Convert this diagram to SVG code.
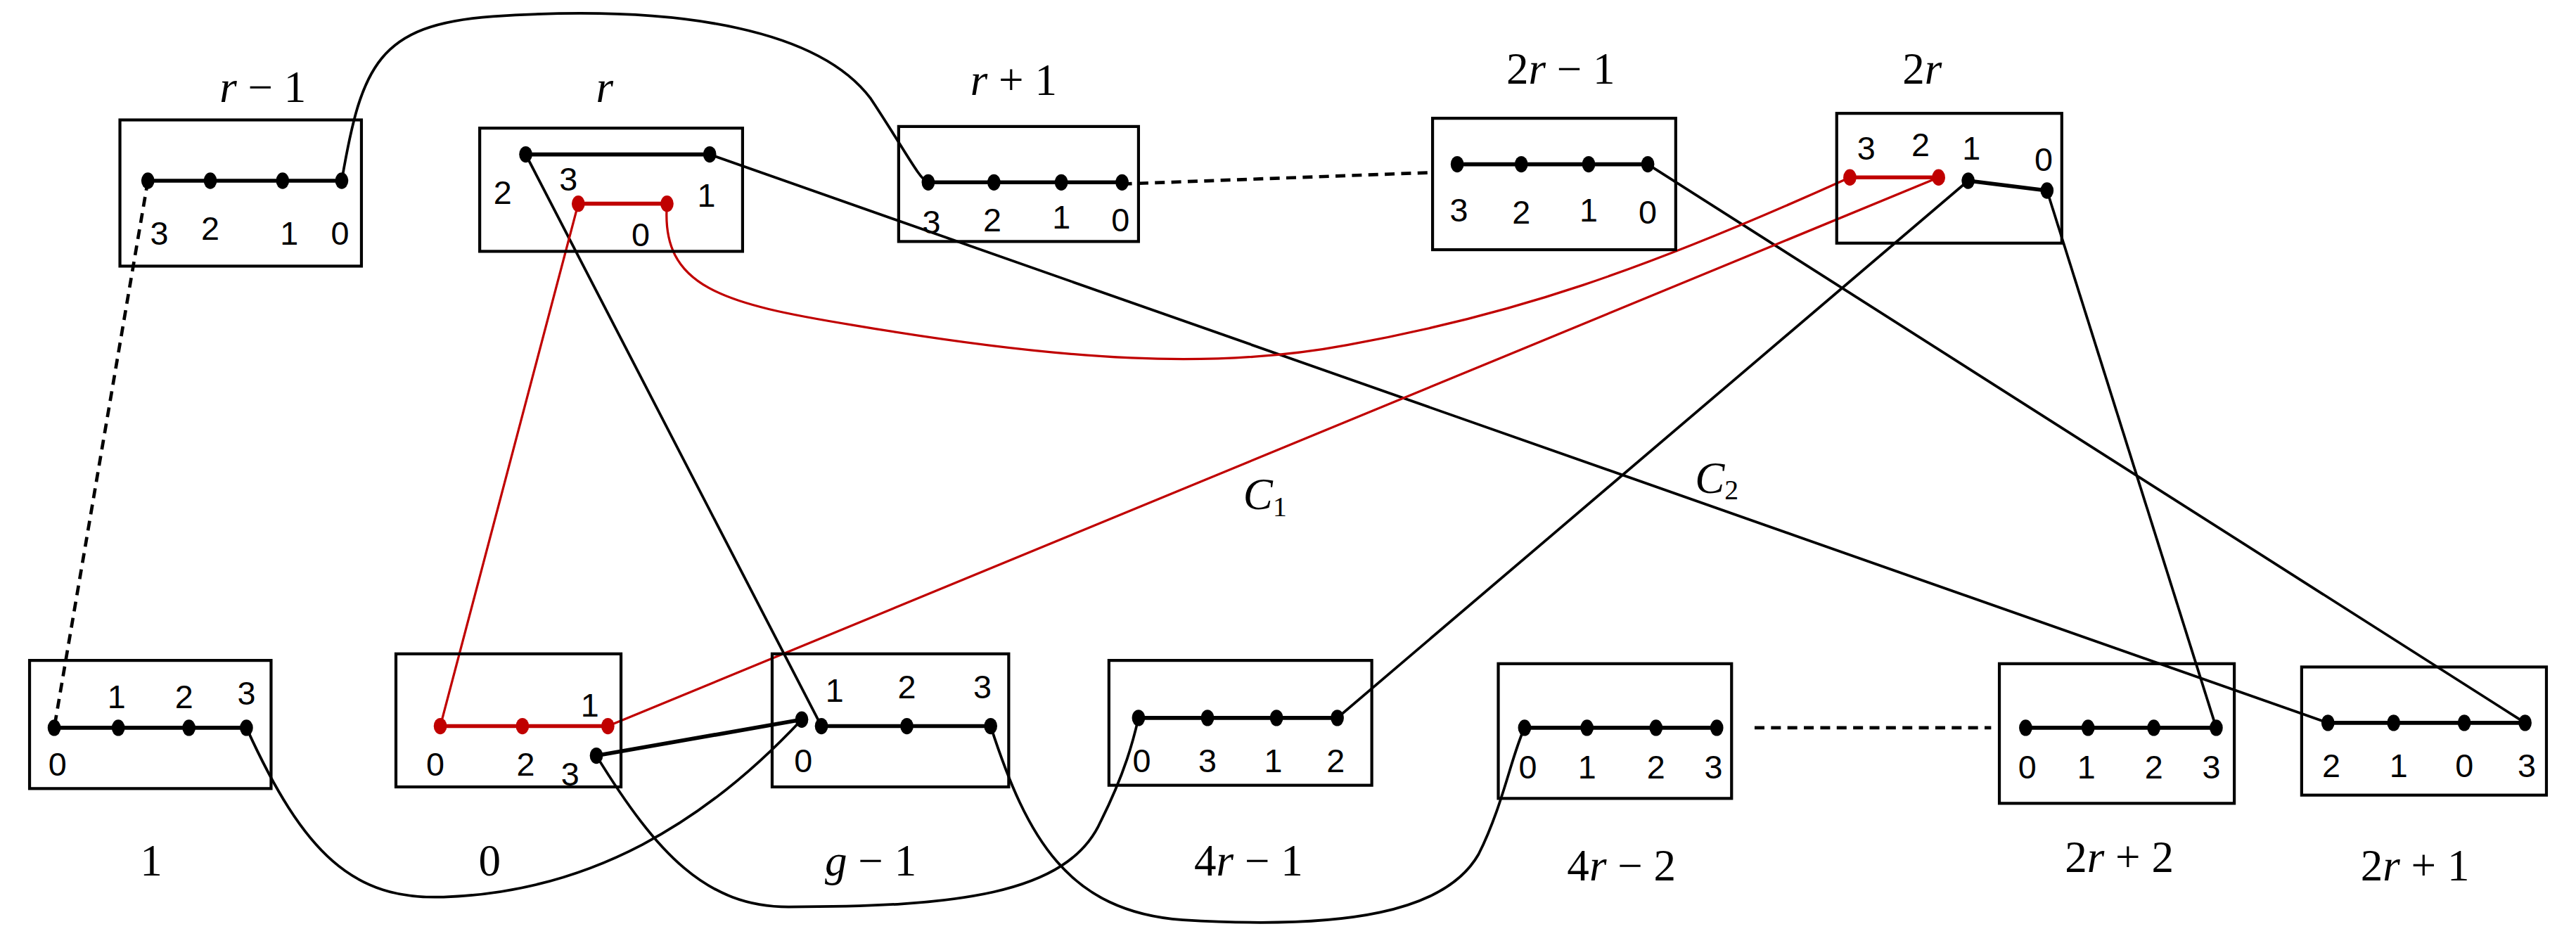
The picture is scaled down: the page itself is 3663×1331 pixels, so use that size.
<svg xmlns="http://www.w3.org/2000/svg" width="3663" height="1331" viewBox="0 0 3663 1331">
<style>
.box{fill:none;stroke:#000;stroke-width:1.8}
.e{stroke:#000;stroke-width:2.4;fill:none}
.r{stroke:#c00000;stroke-width:2.4;fill:none}
.c{stroke:#000;stroke-width:1.6;fill:none}
.cr{stroke:#c00000;stroke-width:1.4;fill:none}
.d{stroke:#000;stroke-width:2;fill:none;stroke-dasharray:6,4}
.dot{fill:#000}
.rd{fill:#c00000}
.n{font-family:"Liberation Sans",Arial,sans-serif;font-size:20px;text-anchor:middle}
.t{font-family:"Liberation Serif","Times New Roman",serif;font-size:27px;text-anchor:middle}
.i{font-style:italic}
</style>
<rect width="3663" height="1331" fill="#fff"/>
<g transform="scale(2.3361)">
<g id="connectors">
<path class="d" d="M90,110 L33,443"/>
<path class="c" d="M208,110 C220,40 230,15 300,10 C420,2 500,20 530,60 C550,90 560,110 565,111"/>
<path class="d" d="M683,112 L872,105"/>
<path class="c" d="M432,94 L1417,440"/>
<path class="c" d="M320,94 L500,442"/>
<path class="c" d="M1003,100 L1537,440"/>
<path class="c" d="M1198,110 L814,437"/>
<path class="c" d="M1246,116 L1349,443"/>
<path class="cr" d="M352,124 L268,442"/>
<path class="cr" d="M406,124 C402,175 440,185 520,198 C650,220 740,225 820,210 C920,192 1000,165 1126,108"/>
<path class="cr" d="M370,442 L1180,108"/>
<path class="e" d="M363,460 L488,438"/>
<path class="c" d="M150,443 C185,520 215,548 270,546 C360,543 430,500 488,438"/>
<path class="c" d="M363,460 C400,520 430,552 480,552 C580,552 650,545 670,500 C685,470 690,450 693,437"/>
<path class="c" d="M603,442 C625,510 650,555 720,560 C820,566 880,555 900,520 C915,490 920,460 928,443"/>
<path class="d" d="M1068,443 L1212,443"/>
<text class="t i" x="770" y="310">C<tspan font-size="17" font-style="normal" dy="4">1</tspan></text>
<text class="t i" x="1045" y="300">C<tspan font-size="17" font-style="normal" dy="4">2</tspan></text>
</g>
<g id="n-r-1">
<rect class="box" x="73" y="73" width="147" height="89"/>
<path class="e" d="M90,110 H208"/>
<ellipse class="dot" cx="90" cy="110" rx="4" ry="5"/><ellipse class="dot" cx="128" cy="110" rx="4" ry="5"/><ellipse class="dot" cx="172" cy="110" rx="4" ry="5"/><ellipse class="dot" cx="208" cy="110" rx="4" ry="5"/>
<text class="n" x="97" y="149">3</text><text class="n" x="128" y="146">2</text><text class="n" x="176" y="149">1</text><text class="n" x="207" y="149">0</text>
<text class="t" x="160" y="62"><tspan class="i">r</tspan> − 1</text>
</g>
<g id="n-r">
<rect class="box" x="292" y="78" width="160" height="75"/>
<path class="e" d="M320,94 H432"/>
<path class="r" d="M352,124 H406"/>
<ellipse class="dot" cx="320" cy="94" rx="4" ry="5"/><ellipse class="dot" cx="432" cy="94" rx="4" ry="5"/>
<ellipse class="rd" cx="352" cy="124" rx="4" ry="5"/><ellipse class="rd" cx="406" cy="124" rx="4" ry="5"/>
<text class="n" x="306" y="124">2</text><text class="n" x="346" y="116">3</text><text class="n" x="430" y="126">1</text><text class="n" x="390" y="150">0</text>
<text class="t i" x="368" y="62">r</text>
</g>
<g id="n-r+1">
<rect class="box" x="547" y="77" width="146" height="70"/>
<path class="e" d="M565,111 H683"/>
<ellipse class="dot" cx="565" cy="111" rx="4" ry="5"/><ellipse class="dot" cx="605" cy="111" rx="4" ry="5"/><ellipse class="dot" cx="646" cy="111" rx="4" ry="5"/><ellipse class="dot" cx="683" cy="111" rx="4" ry="5"/>
<text class="n" x="567" y="142">3</text><text class="n" x="604" y="141">2</text><text class="n" x="646" y="139">1</text><text class="n" x="682" y="141">0</text>
<text class="t" x="617" y="58"><tspan class="i">r</tspan> + 1</text>
</g>
<g id="n-2r-1">
<rect class="box" x="872" y="72" width="148" height="80"/>
<path class="e" d="M887,100 H1003"/>
<ellipse class="dot" cx="887" cy="100" rx="4" ry="5"/><ellipse class="dot" cx="926" cy="100" rx="4" ry="5"/><ellipse class="dot" cx="967" cy="100" rx="4" ry="5"/><ellipse class="dot" cx="1003" cy="100" rx="4" ry="5"/>
<text class="n" x="888" y="135">3</text><text class="n" x="926" y="136">2</text><text class="n" x="967" y="135">1</text><text class="n" x="1003" y="136">0</text>
<text class="t" x="950" y="51">2<tspan class="i">r</tspan> − 1</text>
</g>
<g id="n-2r">
<rect class="box" x="1118" y="69" width="137" height="79"/>
<path class="r" d="M1126,108 H1180"/>
<path class="e" d="M1198,110 L1246,116"/>
<ellipse class="rd" cx="1126" cy="108" rx="4" ry="5"/><ellipse class="rd" cx="1180" cy="108" rx="4" ry="5"/>
<ellipse class="dot" cx="1198" cy="110" rx="4" ry="5"/><ellipse class="dot" cx="1246" cy="116" rx="4" ry="5"/>
<text class="n" x="1136" y="97">3</text><text class="n" x="1169" y="95">2</text><text class="n" x="1200" y="97">1</text><text class="n" x="1244" y="104">0</text>
<text class="t" x="1170" y="51">2<tspan class="i">r</tspan></text>
</g>
<g id="n-1">
<rect class="box" x="18" y="402" width="147" height="78"/>
<path class="e" d="M33,443 H150"/>
<ellipse class="dot" cx="33" cy="443" rx="4" ry="5"/><ellipse class="dot" cx="72" cy="443" rx="4" ry="5"/><ellipse class="dot" cx="115" cy="443" rx="4" ry="5"/><ellipse class="dot" cx="150" cy="443" rx="4" ry="5"/>
<text class="n" x="35" y="472">0</text><text class="n" x="71" y="431">1</text><text class="n" x="112" y="431">2</text><text class="n" x="150" y="429">3</text>
<text class="t" x="92" y="533">1</text>
</g>
<g id="n-0">
<rect class="box" x="241" y="398" width="137" height="81"/>
<path class="r" d="M268,442 H370"/>
<ellipse class="rd" cx="268" cy="442" rx="4" ry="5"/><ellipse class="rd" cx="318" cy="442" rx="4" ry="5"/><ellipse class="rd" cx="370" cy="442" rx="4" ry="5"/>
<ellipse class="dot" cx="363" cy="460" rx="4" ry="5"/>
<text class="n" x="265" y="472">0</text><text class="n" x="320" y="472">2</text><text class="n" x="359" y="436">1</text><text class="n" x="347" y="478">3</text>
<text class="t" x="298" y="533">0</text>
</g>
<g id="n-g-1">
<rect class="box" x="470" y="398" width="144" height="81"/>
<path class="e" d="M500,442 H603"/>
<ellipse class="dot" cx="488" cy="438" rx="4" ry="5"/>
<ellipse class="dot" cx="500" cy="442" rx="4" ry="5"/><ellipse class="dot" cx="552" cy="442" rx="4" ry="5"/><ellipse class="dot" cx="603" cy="442" rx="4" ry="5"/>
<text class="n" x="508" y="427">1</text><text class="n" x="552" y="425">2</text><text class="n" x="598" y="425">3</text><text class="n" x="489" y="470">0</text>
<text class="t" x="530" y="533"><tspan class="i">g</tspan> − 1</text>
</g>
<g id="n-4r-1">
<rect class="box" x="675" y="402" width="160" height="76"/>
<path class="e" d="M693,437 H814"/>
<ellipse class="dot" cx="693" cy="437" rx="4" ry="5"/><ellipse class="dot" cx="735" cy="437" rx="4" ry="5"/><ellipse class="dot" cx="777" cy="437" rx="4" ry="5"/><ellipse class="dot" cx="814" cy="437" rx="4" ry="5"/>
<text class="n" x="695" y="470">0</text><text class="n" x="735" y="470">3</text><text class="n" x="775" y="470">1</text><text class="n" x="813" y="470">2</text>
<text class="t" x="760" y="533">4<tspan class="i">r</tspan> − 1</text>
</g>
<g id="n-4r-2">
<rect class="box" x="912" y="404" width="142" height="82"/>
<path class="e" d="M928,443 H1045"/>
<ellipse class="dot" cx="928" cy="443" rx="4" ry="5"/><ellipse class="dot" cx="966" cy="443" rx="4" ry="5"/><ellipse class="dot" cx="1008" cy="443" rx="4" ry="5"/><ellipse class="dot" cx="1045" cy="443" rx="4" ry="5"/>
<text class="n" x="930" y="474">0</text><text class="n" x="966" y="474">1</text><text class="n" x="1008" y="474">2</text><text class="n" x="1043" y="474">3</text>
<text class="t" x="987" y="536">4<tspan class="i">r</tspan> − 2</text>
</g>
<g id="n-2r+2">
<rect class="box" x="1217" y="404" width="143" height="85"/>
<path class="e" d="M1233,443 H1349"/>
<ellipse class="dot" cx="1233" cy="443" rx="4" ry="5"/><ellipse class="dot" cx="1271" cy="443" rx="4" ry="5"/><ellipse class="dot" cx="1311" cy="443" rx="4" ry="5"/><ellipse class="dot" cx="1349" cy="443" rx="4" ry="5"/>
<text class="n" x="1234" y="474">0</text><text class="n" x="1270" y="474">1</text><text class="n" x="1311" y="474">2</text><text class="n" x="1346" y="474">3</text>
<text class="t" x="1290" y="531">2<tspan class="i">r</tspan> + 2</text>
</g>
<g id="n-2r+1">
<rect class="box" x="1401" y="406" width="149" height="78"/>
<path class="e" d="M1417,440 H1537"/>
<ellipse class="dot" cx="1417" cy="440" rx="4" ry="5"/><ellipse class="dot" cx="1457" cy="440" rx="4" ry="5"/><ellipse class="dot" cx="1500" cy="440" rx="4" ry="5"/><ellipse class="dot" cx="1537" cy="440" rx="4" ry="5"/>
<text class="n" x="1419" y="473">2</text><text class="n" x="1460" y="473">1</text><text class="n" x="1500" y="473">0</text><text class="n" x="1538" y="473">3</text>
<text class="t" x="1470" y="536">2<tspan class="i">r</tspan> + 1</text>
</g>
</g>
</svg>
